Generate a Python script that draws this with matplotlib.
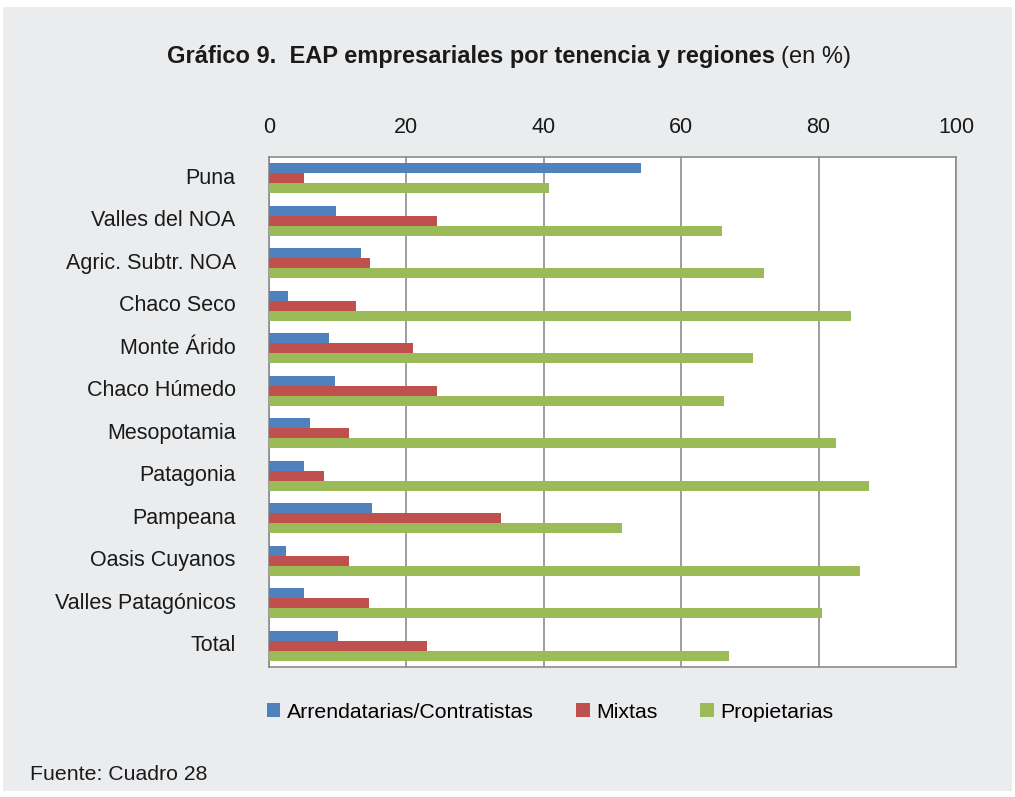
import numpy as np
import matplotlib.pyplot as plt
from matplotlib.patches import Rectangle

plt.rcParams['font.family'] = ['Liberation Sans', 'DejaVu Sans']

regiones = ["Puna", "Valles del NOA", "Agric. Subtr. NOA", "Chaco Seco", "Monte Árido",
            "Chaco Húmedo", "Mesopotamia", "Patagonia", "Pampeana", "Oasis Cuyanos",
            "Valles Patagónicos", "Total"]
arrendatarias = [54.2, 9.8, 13.4, 2.8, 8.7, 9.6, 5.9, 5.1, 15.0, 2.5, 5.1, 10.0]
mixtas = [5.1, 24.4, 14.7, 12.7, 21.0, 24.4, 11.6, 8.0, 33.7, 11.6, 14.5, 23.0]
propietarias = [40.8, 66.0, 72.0, 84.7, 70.4, 66.2, 82.6, 87.3, 51.4, 86.0, 80.5, 67.0]
series_names = ["Arrendatarias/Contratistas", "Mixtas", "Propietarias"]
colores = ["#4F81BD", "#C0504D", "#9BBB59"]

fig = plt.figure(figsize=(10.15, 7.97), dpi=100, facecolor='white')
# fondo gris del recuadro
fig.patches.append(Rectangle((0.003, 0.008), 0.994, 0.983, transform=fig.transFigure,
                             facecolor='#EBECEE', edgecolor='none', zorder=-10))

ax = fig.add_axes([269/1015, 1 - 667/797, (956-269)/1015, (667-157)/797])
ax.set_facecolor('white')

y = np.arange(len(regiones))
h = 0.235
for i, (vals, name, c) in enumerate(zip([arrendatarias, mixtas, propietarias], series_names, colores)):
    ax.barh(y + (i - 1) * h, vals, height=h, color=c, label=name, zorder=3)

ax.set_xlim(0, 100)
ax.set_ylim(len(regiones) - 0.5, -0.5)
ax.set_xticks([0, 20, 40, 60, 80, 100])
ax.xaxis.tick_top()
ax.tick_params(axis='x', length=0, pad=14, labelsize=15.5, colors='#1a1a1a')
ax.set_yticks(y - 0.06)
ax.set_yticklabels(regiones)
ax.tick_params(axis='y', length=0, pad=24, labelsize=15.5, colors='#1a1a1a')
ax.grid(axis='x', color='#8C8C8C', linewidth=1.2, zorder=0)
for s in ax.spines.values():
    s.set_color('#8C8C8C')
    s.set_linewidth(1.2)

# titulo (negrita + normal)
t1 = fig.text(167/1015, 1 - 57/797, "Gráfico 9.  EAP empresariales por tenencia y regiones",
              fontsize=17, fontweight='bold', va='center', ha='left', color='#1a1a1a')
fig.canvas.draw()
bb = t1.get_window_extent()
fig.text(bb.x1 / fig.bbox.width + 0.006, 1 - 57/797, "(en %)", fontsize=17,
         va='center', ha='left', color='#1a1a1a')

fig.legend(loc='center', bbox_to_anchor=(550/1015, 1 - 712/797), ncol=3, frameon=False,
           fontsize=15.3, handlelength=0.65, handleheight=0.65, handletextpad=0.3,
           columnspacing=2.0)

fig.text(30/1015, 1 - 775/797, "Fuente: Cuadro 28", fontsize=15.3, va='center', ha='left',
         color='#1a1a1a')

plt.savefig('out.png', dpi=100, facecolor=fig.get_facecolor())
